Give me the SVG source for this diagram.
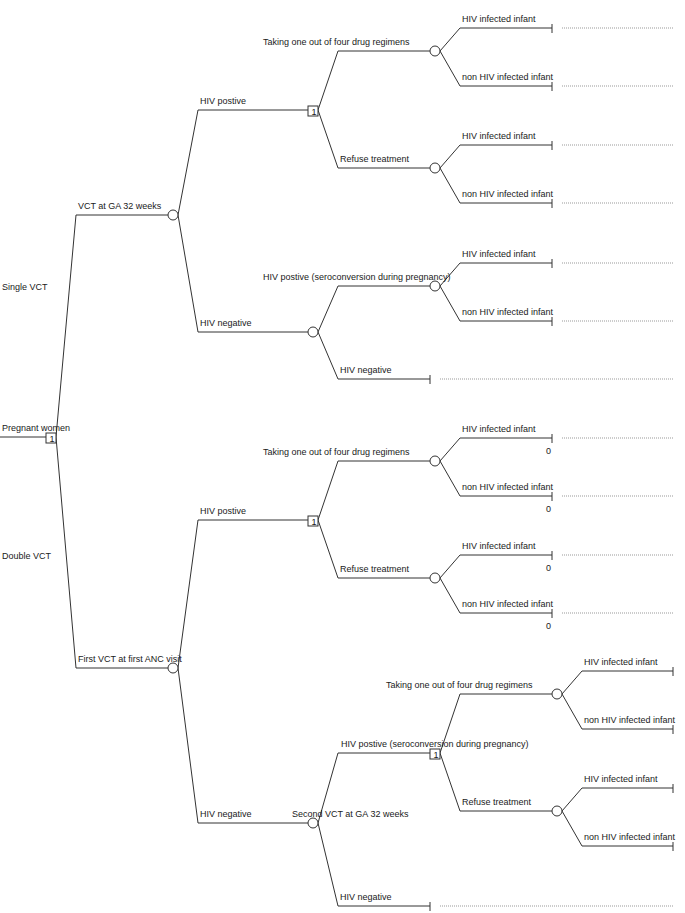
<svg xmlns="http://www.w3.org/2000/svg" width="685" height="913" viewBox="0 0 685 913">
<style>
text{font-family:"Liberation Sans",Arial,sans-serif;font-size:9px;fill:#1a1a1a}
.c{fill:none;stroke:#333;stroke-width:1}
.dec rect{fill:#fff;stroke:#333;stroke-width:1}
.dec text{font-size:9px;text-anchor:middle}
.ch circle{fill:#fff;stroke:#333;stroke-width:1}
.term line{stroke:#333;stroke-width:1}
.dot{stroke:#999;stroke-width:1;stroke-dasharray:1 1}
</style>
<rect width="685" height="913" fill="#fff"/>
<g id="connectors">
<path class="c" d="M0,437H46"/>
<path class="c" d="M56,437L76,215H168"/>
<path class="c" d="M56,437L76,668H168"/>
<path class="c" d="M178,215L198,110H308"/>
<path class="c" d="M178,215L198,332H308"/>
<path class="c" d="M318,110L338,51H430"/>
<path class="c" d="M318,110L338,168H430"/>
<path class="c" d="M440,51L460,28H552"/>
<path class="c" d="M440,51L460,86H552"/>
<path class="c" d="M440,168L460,145H552"/>
<path class="c" d="M440,168L460,203H552"/>
<path class="c" d="M318,332L338,286H430"/>
<path class="c" d="M318,332L338,379H430"/>
<path class="c" d="M440,286L460,263H552"/>
<path class="c" d="M440,286L460,321H552"/>
<path class="c" d="M178,668L198,520H308"/>
<path class="c" d="M178,668L198,823H308"/>
<path class="c" d="M318,520L338,461H430"/>
<path class="c" d="M318,520L338,578H430"/>
<path class="c" d="M440,461L460,438H552"/>
<path class="c" d="M440,461L460,496H552"/>
<path class="c" d="M440,578L460,555H552"/>
<path class="c" d="M440,578L460,613H552"/>
<path class="c" d="M318,823L338,753H430"/>
<path class="c" d="M318,823L338,906H430"/>
<path class="c" d="M440,753L460,694H552"/>
<path class="c" d="M440,753L460,811H552"/>
<path class="c" d="M562,694L582,671H673"/>
<path class="c" d="M562,694L582,729H673"/>
<path class="c" d="M562,811L582,788H673"/>
<path class="c" d="M562,811L582,846H673"/>
<line class="dot" x1="562" y1="28" x2="673" y2="28"/>
<line class="dot" x1="562" y1="86" x2="673" y2="86"/>
<line class="dot" x1="562" y1="145" x2="673" y2="145"/>
<line class="dot" x1="562" y1="203" x2="673" y2="203"/>
<line class="dot" x1="562" y1="263" x2="673" y2="263"/>
<line class="dot" x1="562" y1="321" x2="673" y2="321"/>
<line class="dot" x1="440" y1="379" x2="673" y2="379"/>
<line class="dot" x1="562" y1="438" x2="673" y2="438"/>
<line class="dot" x1="562" y1="496" x2="673" y2="496"/>
<line class="dot" x1="562" y1="555" x2="673" y2="555"/>
<line class="dot" x1="562" y1="613" x2="673" y2="613"/>
<line class="dot" x1="440" y1="906" x2="673" y2="906"/>
</g>
<g id="labels">
<text x="2" y="431">Pregnant women</text>
<text x="2" y="290">Single VCT</text>
<text x="2" y="559">Double VCT</text>
<text x="78" y="209">VCT at GA 32 weeks</text>
<text x="78" y="662">First VCT at first ANC visit</text>
<text x="200" y="104">HIV postive</text>
<text x="200" y="326">HIV negative</text>
<text x="263" y="45">Taking one out of four drug regimens</text>
<text x="340" y="162">Refuse treatment</text>
<text x="462" y="22">HIV infected infant</text>
<text x="462" y="80">non HIV infected infant</text>
<text x="462" y="139">HIV infected infant</text>
<text x="462" y="197">non HIV infected infant</text>
<text x="263" y="280">HIV postive (seroconversion during pregnancy)</text>
<text x="340" y="373">HIV negative</text>
<text x="462" y="257">HIV infected infant</text>
<text x="462" y="315">non HIV infected infant</text>
<text x="200" y="514">HIV postive</text>
<text x="200" y="817">HIV negative</text>
<text x="263" y="455">Taking one out of four drug regimens</text>
<text x="340" y="572">Refuse treatment</text>
<text x="462" y="432">HIV infected infant</text>
<text x="462" y="490">non HIV infected infant</text>
<text x="462" y="549">HIV infected infant</text>
<text x="462" y="607">non HIV infected infant</text>
<text x="546" y="454">0</text>
<text x="546" y="512">0</text>
<text x="546" y="571">0</text>
<text x="546" y="629">0</text>
<text x="292" y="817">Second VCT at GA 32 weeks</text>
<text x="341" y="747">HIV postive (seroconversion during pregnancy)</text>
<text x="340" y="900">HIV negative</text>
<text x="386" y="688">Taking one out of four drug regimens</text>
<text x="462" y="805">Refuse treatment</text>
<text x="584" y="665">HIV infected infant</text>
<text x="584" y="723">non HIV infected infant</text>
<text x="584" y="782">HIV infected infant</text>
<text x="584" y="840">non HIV infected infant</text>
</g>
<g id="decision-root" class="dec"><rect x="46" y="433" width="10" height="10"/><text x="52" y="442">1</text></g>
<g id="decision-s1" class="dec"><rect x="308" y="106" width="10" height="10"/><text x="314" y="115">1</text></g>
<g id="decision-s2" class="dec"><rect x="308" y="516" width="10" height="10"/><text x="314" y="525">1</text></g>
<g id="decision-s3" class="dec"><rect x="430" y="749" width="10" height="10"/><text x="436" y="758">1</text></g>
<g id="chance-c1" class="ch"><circle cx="173" cy="215" r="5"/></g>
<g id="chance-c2" class="ch"><circle cx="173" cy="668" r="5"/></g>
<g id="chance-c3" class="ch"><circle cx="313" cy="332" r="5"/></g>
<g id="chance-c4" class="ch"><circle cx="435" cy="51" r="5"/></g>
<g id="chance-c5" class="ch"><circle cx="435" cy="168" r="5"/></g>
<g id="chance-c6" class="ch"><circle cx="435" cy="286" r="5"/></g>
<g id="chance-c7" class="ch"><circle cx="313" cy="823" r="5"/></g>
<g id="chance-c8" class="ch"><circle cx="435" cy="461" r="5"/></g>
<g id="chance-c9" class="ch"><circle cx="435" cy="578" r="5"/></g>
<g id="chance-c10" class="ch"><circle cx="557" cy="694" r="5"/></g>
<g id="chance-c11" class="ch"><circle cx="557" cy="811" r="5"/></g>
<g id="terminals" class="term">
<line id="t1" x1="552" y1="24" x2="552" y2="33"/>
<line id="t2" x1="552" y1="82" x2="552" y2="91"/>
<line id="t3" x1="552" y1="141" x2="552" y2="150"/>
<line id="t4" x1="552" y1="199" x2="552" y2="208"/>
<line id="t5" x1="552" y1="259" x2="552" y2="268"/>
<line id="t6" x1="552" y1="317" x2="552" y2="326"/>
<line id="t7" x1="430" y1="375" x2="430" y2="384"/>
<line id="t8" x1="552" y1="434" x2="552" y2="443"/>
<line id="t9" x1="552" y1="492" x2="552" y2="501"/>
<line id="t10" x1="552" y1="551" x2="552" y2="560"/>
<line id="t11" x1="552" y1="609" x2="552" y2="618"/>
<line id="t12" x1="430" y1="902" x2="430" y2="911"/>
<line id="t13" x1="673" y1="667" x2="673" y2="676"/>
<line id="t14" x1="673" y1="725" x2="673" y2="734"/>
<line id="t15" x1="673" y1="784" x2="673" y2="793"/>
<line id="t16" x1="673" y1="842" x2="673" y2="851"/>
</g>
</svg>
